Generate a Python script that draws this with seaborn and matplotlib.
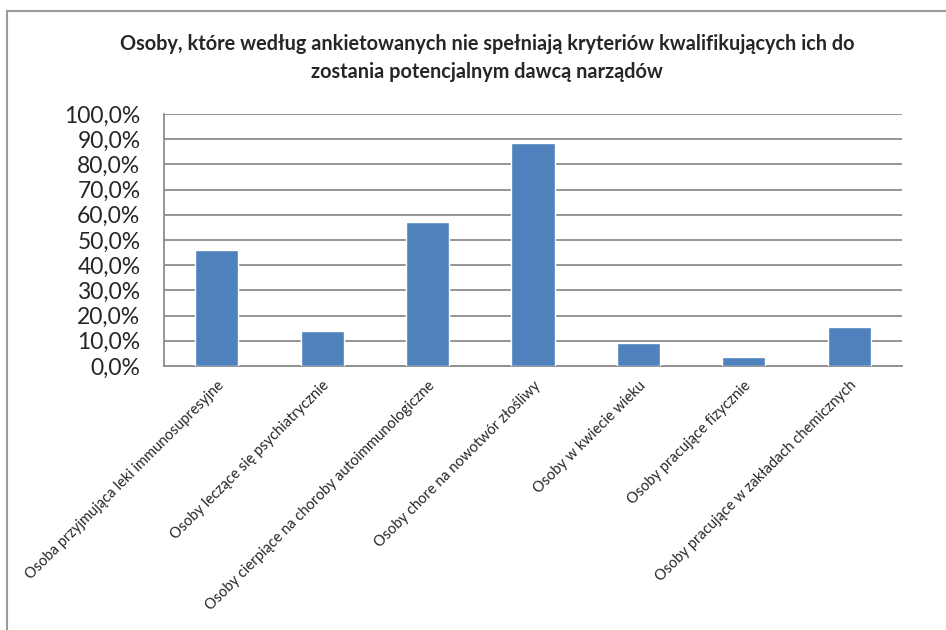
import matplotlib
matplotlib.use('Agg')
import matplotlib.pyplot as plt
import seaborn as sns
import pandas as pd
from matplotlib.patches import Rectangle
from matplotlib.ticker import FuncFormatter, MultipleLocator

kategorie = [
    'Osoba przyjmująca leki immunosupresyjne',
    'Osoby leczące się psychiatrycznie',
    'Osoby cierpiące na choroby autoimmunologiczne',
    'Osoby chore na nowotwór złośliwy',
    'Osoby w kwiecie wieku',
    'Osoby pracujące fizycznie',
    'Osoby pracujące w zakładach chemicznych',
]
procent = [46.0, 14.0, 57.2, 88.6, 9.2, 3.7, 15.4]

tytul = ('Osoby, które według ankietowanych nie spełniają kryteriów kwalifikujących ich do\n'
         'zostania potencjalnym dawcą narządów')

df = pd.DataFrame({'kategoria': kategorie, 'procent': procent})

sns.set_style('white')
plt.rcParams['font.family'] = ['Lato', 'DejaVu Sans']

fig = plt.figure(figsize=(9.46, 6.30), dpi=100)
ax = fig.add_axes([0.1734, 0.419, 0.78, 0.400])

sns.barplot(data=df, x='kategoria', y='procent', color='#4F81BD', width=0.41,
            saturation=1, ax=ax, zorder=3)

ax.set_ylim(0, 100)
ax.yaxis.set_major_locator(MultipleLocator(10))
ax.yaxis.set_major_formatter(FuncFormatter(lambda v, p: f'{v:.1f}'.replace('.', ',') + '%'))
ax.grid(axis='y', color='#8c8c8c', linewidth=1.3, zorder=0)
ax.set_axisbelow(True)
ax.set_xlabel('')
ax.set_ylabel('')
for s in ['top', 'right']:
    ax.spines[s].set_visible(False)
for s in ['left', 'bottom']:
    ax.spines[s].set_color('#8c8c8c')
    ax.spines[s].set_linewidth(1.3)
ax.tick_params(axis='both', length=0)
ax.tick_params(axis='y', labelsize=16.5, pad=17)
ax.set_xticks(range(len(kategorie)))
ax.set_xticklabels(kategorie, rotation=45, ha='right', rotation_mode='anchor', fontsize=10.5)
for lbl in ax.get_xticklabels():
    lbl.set_y(-0.03)

fig.text(0.515, 1 - 58 / 630, tytul, ha='center', va='center', fontsize=14.3,
         fontweight='bold', linespacing=1.45)

fig.patches.append(Rectangle((7 / 946, -0.1), 1.2, 1 - 11 / 630 + 0.1, transform=fig.transFigure,
                             fill=False, edgecolor='#9a9a9a', linewidth=1.5))

fig.savefig('out.png', dpi=100)
